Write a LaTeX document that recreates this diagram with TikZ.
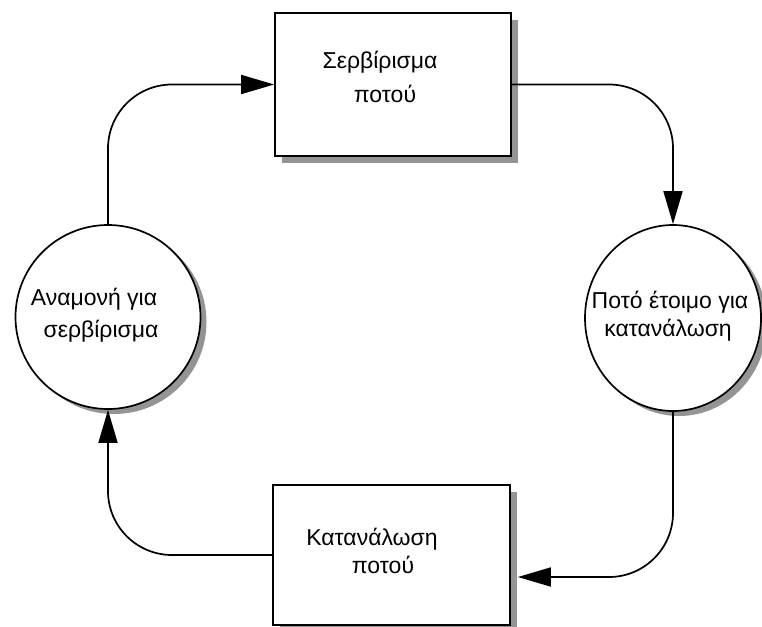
\documentclass[tikz,border=0pt]{standalone}
\usepackage{fontspec}
\setmainfont{Liberation Sans}
\usetikzlibrary{arrows.meta,shadows,shapes.geometric}

\begin{document}
\begin{tikzpicture}[x=1pt,y=-1pt,
  line width=1.7pt,
  shadowed/.style={drop shadow={shadow xshift=7pt,shadow yshift=-7pt,fill=black!42,opacity=1}},
  cshadow/.style={drop shadow={shadow xshift=6pt,shadow yshift=-5pt,fill=black!42,opacity=1}},
  activity/.style={draw,fill=white,rectangle,inner sep=0pt,shadowed},
  state/.style={draw,fill=white,ellipse,inner sep=0pt,cshadow},
  lbl/.style={anchor=base,inner sep=0pt,font=\fontsize{23}{27}\selectfont},
  flow/.style={-{Triangle[length=33pt,width=19pt]},rounded corners=64pt}
]
\useasboundingbox (0,0) rectangle (762,626);

% transitions (boxes) and places (circles)
\node[activity,minimum width=236pt,minimum height=143pt] (T) at (393,84.5) {};
\node[activity,minimum width=237pt,minimum height=140pt] (B) at (391.5,555) {};
\node[state,minimum width=185pt,minimum height=184pt] (L) at (108,317) {};
\node[state,minimum width=176pt,minimum height=186pt] (R) at (673,318) {};

% labels
\node[lbl] (t1) at (380,68) {Σερβίρισμα};
\node[lbl] (t2) at (385,102) {ποτού};
\node[lbl] (b1) at (372,545) {Κατανάλωση};
\node[lbl] (b2) at (383,573) {ποτού};
\node[lbl] (l1) at (94,305) {Αναμονή για};
\node[lbl] (l2) at (101,337) {σερβίρισμα};
\node[lbl] (r1) at (670,308) {Ποτό έτοιμο για};
\node[lbl] (r2) at (668,336) {κατανάλωση};

% arcs of the cycle
\draw[flow] (L.north) |- (T.west);
\draw[flow] (T.east) -| (R.north);
\draw[flow] (R.south) |- ([xshift=7pt,yshift=-22pt]B.east);
\draw[flow] (B.west) -| (L.south);
\end{tikzpicture}
\end{document}
